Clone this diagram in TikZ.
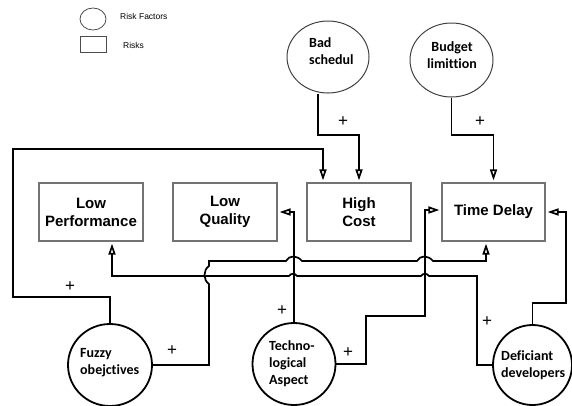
\documentclass[tikz,border=0pt]{standalone}
\usepackage{fontspec}
\setmainfont{Liberation Sans}
\newfontfamily\calib[Ligatures={NoCommon}]{Carlito}
\usetikzlibrary{arrows.meta,shapes.geometric}
\begin{document}
\begin{tikzpicture}[x=1pt,y=-1pt,
 conn/.style={line width=1.7pt, line join=miter},
 arr/.style={conn, -{Triangle[open,length=11pt,width=7pt]}, shorten >=2pt},
 riskbox/.style={draw=black!55, line width=1.2pt, minimum width=104pt, minimum height=58pt, inner sep=0pt, font=\fontsize{15}{18}\selectfont\bfseries, align=center},
 factorA/.style={ellipse, draw=black!75, line width=1pt, inner sep=0pt},
 factorB/.style={ellipse, draw=black, line width=1.8pt, inner sep=0pt},
 ftext/.style={font=\calib\fontsize{14}{17}\selectfont\bfseries, inner sep=0pt},
 plus/.style={font=\fontsize{17}{17}\selectfont, inner sep=0pt},
 legtext/.style={font=\fontsize{8.5}{10}\selectfont, inner sep=0pt}]
\useasboundingbox (0,0) rectangle (572,405);

% legend
\node[ellipse, draw=black!70, line width=0.8pt, minimum width=26pt, minimum height=22pt, inner sep=0pt] (lc) at (93,19) {};
\node[draw=black!70, line width=0.8pt, minimum width=26pt, minimum height=16pt, inner sep=0pt] (lr) at (93,44) {};
\node[legtext, anchor=west] (lct) at (120,16) {Risk Factors};
\node[legtext, anchor=west] (lrt) at (123,45) {Risks};

% risks
\node[riskbox] (lp) at (91,212) {Low\\Performance};
\node[riskbox] (lq) at (225,212) {Low\\Quality};
\node[riskbox] (hc) at (359,212) {High\\Cost};
\node[riskbox, minimum width=103pt] (td) at (493.5,212) {Time Delay};

% risk factors
\node[factorA, minimum width=82pt, minimum height=72pt] (bs) at (328,57) {};
\node[factorA, minimum width=83pt, minimum height=74pt] (bl) at (451.5,60) {};
\node[factorB, minimum width=84pt, minimum height=82pt] (fo) at (110,365) {};
\node[factorB, minimum width=83pt, minimum height=82pt] (ta) at (294,364) {};
\node[factorB, minimum width=79pt, minimum height=80pt] (dd) at (532.5,365) {};

\node[ftext, anchor=west, align=left] (bst) at (309,51.5) {Bad\\schedul};
\node[ftext, align=center] (blt) at (452,55) {Budget\\limittion};
\node[ftext, anchor=west, align=left] (fot) at (80,363) {Fuzzy\\obejctives};
\node[ftext, anchor=west, align=left] (tat) at (269,364) {Techno-\\logical\\Aspect};
\node[ftext, anchor=west, align=left] (ddt) at (501,365.5) {Deficiant\\developers};

% connectors
\draw[arr] ([xshift=-10pt]bs.south) -- (318,135) -- (359,135) -- (hc.north);
\draw[arr] (bl.south) -- (451.5,135) -- (493.5,135) -- (td.north);
\draw[arr] (fo.north) -- (110,297) -- (13,297) -- (13,149) -- (323,149) -- ([xshift=-36pt]hc.north);
\draw[arr] (fo.east) -- (209,365) -- (209,284) .. controls (203,280) and (203,270) .. (209,266) -- (209,261)
  -- (286,261) .. controls (289,255) and (297,255) .. (302,261)
  -- (417,261) .. controls (420,255) and (428,255) .. (433,261)
  -- (486,261) -- ([xshift=-7.5pt]td.south);
\draw[arr] (dd.west) -- (477,365) -- (477,276) -- (429,276) .. controls (427,273) and (423,273) .. (421,276)
  -- (297,276) .. controls (295,273) and (291,273) .. (289,276) -- (112,276) -- ([xshift=21pt]lp.south);
\draw[arr] (ta.north) -- (ta.north |- lq.east) -- (lq.east);
\draw[arr] (ta.east) -- (366,364) -- (366,316) -- (425,316) -- (425,210) -- ([yshift=2pt]td.west);
\draw[arr] (dd.north) -- (532.5,303) -- (566,303) -- (566,212) -- (td.east);

% polarity signs
\node[plus] (p1) at (343,122) {+};
\node[plus] (p2) at (480,122) {+};
\node[plus] (p3) at (70,287) {+};
\node[plus] (p4) at (172,351) {+};
\node[plus] (p5) at (282,311) {+};
\node[plus] (p6) at (348,353) {+};
\node[plus] (p7) at (487,322) {+};
\end{tikzpicture}
\end{document}
